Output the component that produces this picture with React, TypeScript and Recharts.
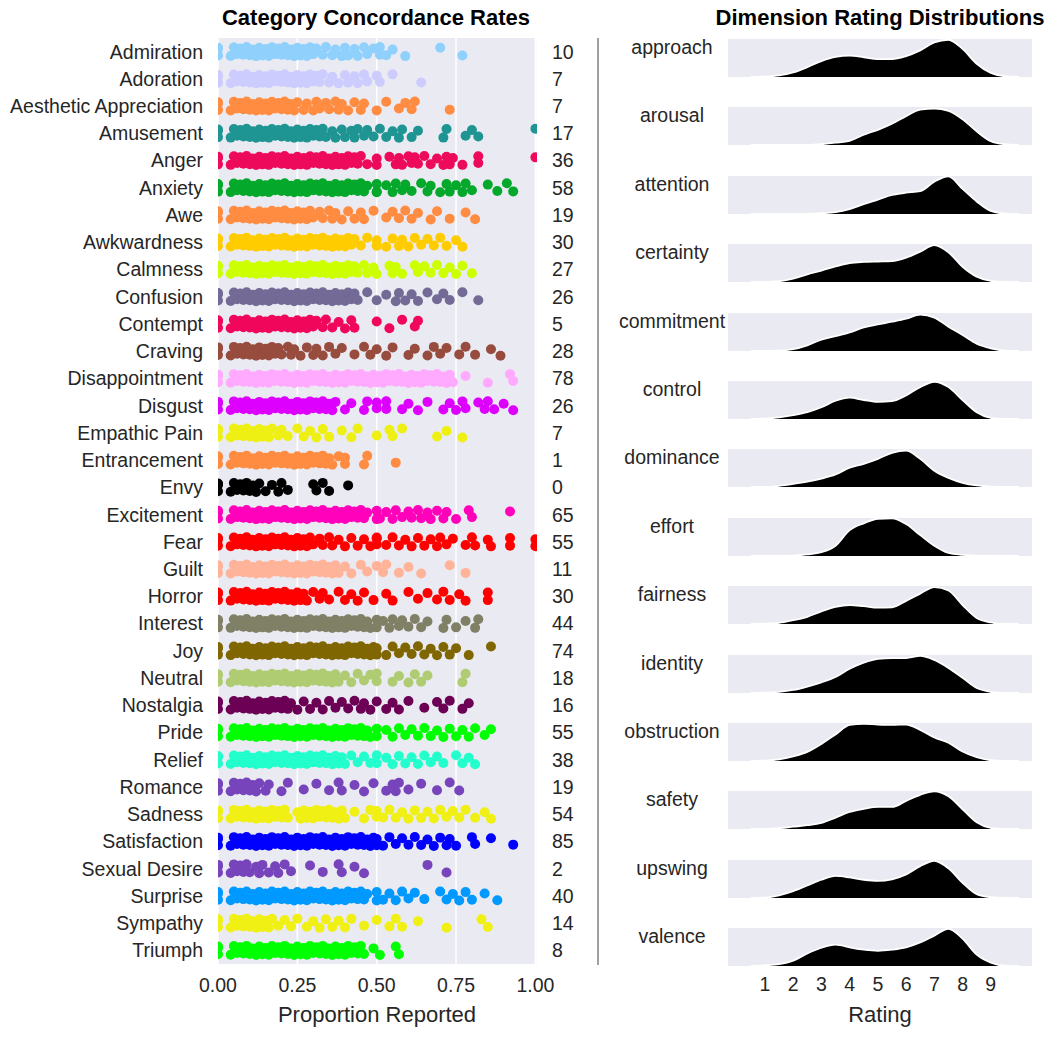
import { Area, AreaChart, CartesianGrid, Scatter, ScatterChart, XAxis, YAxis } from "recharts";

const FONT = "'Liberation Sans', Arial, sans-serif";
const INK = "#262626";

// ---- left panel: category concordance ----
const CATEGORIES = [
  "Admiration", "Adoration", "Aesthetic Appreciation", "Amusement", "Anger", "Anxiety", "Awe",
  "Awkwardness", "Calmness", "Confusion", "Contempt", "Craving", "Disappointment", "Disgust",
  "Empathic Pain", "Entrancement", "Envy", "Excitement", "Fear", "Guilt", "Horror", "Interest",
  "Joy", "Neutral", "Nostalgia", "Pride", "Relief", "Romance", "Sadness", "Satisfaction",
  "Sexual Desire", "Surprise", "Sympathy", "Triumph",
];
const COUNTS = [10, 7, 7, 17, 36, 58, 19, 30, 27, 26, 5, 28, 78, 26, 7, 1, 0, 65, 55, 11, 30, 44, 74, 18, 16, 55, 38, 19, 54, 85, 2, 40, 14, 8];
const COLORS = [
  "#8FD1FC", "#CCCCFF", "#FF8C40", "#1F9593", "#EE0A5A", "#04A82A", "#FF8C40",
  "#FFCC00", "#CCFF00", "#736A96", "#F0075B", "#974C3E", "#FFAAFF", "#DD00FF",
  "#EEF014", "#FF8C40", "#000000", "#FF00BB", "#FF0000", "#FFB399", "#FF0000", "#808066",
  "#806600", "#B0CC72", "#6B0055", "#00FF00", "#22FFCC", "#7744BB", "#F0F014", "#0000FF",
  "#7744BB", "#0099FF", "#F0F014", "#00FF00",
];
const X_TICKS = [0, 0.25, 0.5, 0.75, 1];

// proportion reported per stimulus, in percent
const admiration = [0, 0, 0, 4, 5, 6, 7, 8, 9, 10, 11, 12, 13, 14, 15, 16, 17, 18, 19, 20, 21, 22, 23, 24, 25, 26, 27, 28, 29, 30, 31, 33, 34, 36, 37, 39, 40, 41, 43, 44, 46, 47, 49, 51, 51, 53, 55, 59, 70, 77];
const adoration = [0, 0, 0, 4, 5, 6, 7, 8, 9, 10, 11, 12, 13, 14, 15, 16, 17, 18, 19, 20, 21, 22, 23, 24, 25, 26, 27, 28, 29, 30, 31, 32, 33, 35, 36, 38, 40, 41, 43, 44, 46, 47, 50, 51, 55, 64];
const aesthetic = [0, 0, 0, 4, 5, 6, 7, 8, 9, 10, 11, 12, 13, 14, 15, 16, 17, 18, 19, 20, 21, 22, 23, 24, 25, 27, 28, 30, 31, 32, 34, 35, 37, 38, 39, 41, 43, 45, 46, 50, 53, 57, 59, 61, 62, 73];
const amusement = [0, 0, 0, 4, 5, 6, 7, 8, 9, 10, 11, 12, 13, 14, 15, 16, 17, 18, 19, 20, 21, 22, 23, 24, 25, 26, 27, 28, 29, 30, 31, 32, 33, 34, 36, 37, 39, 40, 42, 43, 44, 46, 47, 49, 51, 53, 55, 57, 58, 61, 63, 71, 72, 78, 80, 82, 100];
const anger = [0, 0, 0, 4, 5, 6, 7, 8, 9, 10, 11, 12, 13, 14, 15, 16, 17, 18, 19, 20, 21, 22, 23, 24, 25, 26, 27, 28, 29, 30, 31, 32, 33, 34, 35, 36, 37, 38, 39, 40, 41, 42, 43, 44, 45, 47, 50, 50, 54, 56, 57, 58, 60, 61, 62, 63, 65, 67, 69, 71, 72, 73, 74, 77, 82, 82, 100];
const anxiety = [0, 0, 0, 4, 5, 6, 7, 8, 9, 10, 11, 12, 13, 14, 15, 16, 17, 18, 19, 20, 21, 22, 23, 24, 25, 26, 27, 28, 29, 30, 31, 32, 33, 34, 35, 36, 37, 38, 39, 40, 41, 42, 43, 44, 45, 46, 47, 50, 50, 50, 53, 55, 56, 58, 59, 61, 64, 66, 67, 70, 72, 73, 75, 77, 78, 80, 85, 88, 91, 93];
const awe = [0, 0, 0, 4, 5, 6, 7, 8, 9, 10, 11, 12, 13, 14, 15, 16, 17, 18, 19, 20, 21, 22, 23, 24, 25, 26, 27, 28, 29, 30, 32, 33, 35, 36, 37, 39, 41, 43, 45, 46, 49, 53, 55, 57, 59, 61, 63, 67, 69, 73, 78, 81];
const awkwardness = [0, 0, 0, 4, 5, 6, 7, 8, 9, 10, 11, 12, 13, 14, 15, 16, 17, 18, 19, 20, 21, 22, 23, 24, 25, 26, 27, 28, 29, 30, 31, 32, 33, 34, 35, 36, 37, 38, 39, 40, 41, 42, 43, 45, 47, 50, 50, 53, 55, 57, 58, 60, 62, 64, 66, 68, 70, 72, 75, 77];
const calmness = [0, 0, 0, 4, 5, 6, 7, 8, 9, 10, 11, 12, 13, 14, 15, 16, 17, 18, 19, 20, 21, 22, 23, 24, 25, 26, 27, 28, 29, 30, 31, 32, 33, 34, 35, 36, 37, 38, 39, 40, 41, 42, 43, 44, 46, 47, 49, 50, 54, 55, 56, 58, 62, 63, 65, 67, 69, 71, 73, 75, 77, 80];
const confusion = [0, 0, 0, 4, 5, 6, 7, 8, 9, 10, 11, 12, 13, 14, 15, 16, 17, 18, 19, 20, 21, 22, 23, 24, 25, 26, 27, 28, 29, 30, 31, 32, 33, 34, 35, 36, 37, 38, 39, 40, 41, 42, 43, 44, 47, 50, 53, 56, 57, 59, 61, 63, 66, 69, 71, 73, 77, 82];
const contempt = [0, 0, 0, 4, 5, 6, 7, 8, 9, 10, 11, 12, 13, 14, 15, 16, 17, 18, 19, 20, 21, 22, 23, 24, 25, 26, 27, 28, 29, 30, 31, 33, 34, 36, 38, 40, 42, 43, 50, 54, 58, 62, 63];
const craving = [0, 0, 0, 4, 5, 6, 7, 8, 9, 10, 11, 12, 13, 14, 15, 16, 17, 18, 19, 20, 22, 23, 24, 26, 28, 30, 31, 33, 35, 37, 39, 43, 46, 48, 50, 53, 55, 60, 62, 66, 68, 70, 72, 76, 78, 81, 86, 89];
const disappointment = [0, 0, 0, 4, 5, 6, 7, 8, 9, 10, 11, 12, 13, 14, 15, 16, 17, 18, 19, 20, 21, 22, 23, 24, 25, 26, 27, 28, 29, 30, 31, 32, 33, 34, 35, 36, 37, 38, 39, 40, 41, 42, 43, 44, 45, 46, 47, 48, 49, 50, 51, 52, 53, 54, 55, 56, 57, 58, 59, 60, 61, 62, 63, 64, 65, 66, 67, 68, 69, 70, 71, 72, 73, 74, 78, 85, 92, 93];
const disgust = [0, 0, 0, 4, 5, 6, 7, 8, 9, 10, 11, 12, 13, 14, 15, 16, 17, 18, 19, 20, 21, 22, 23, 24, 25, 26, 27, 28, 29, 30, 31, 32, 33, 34, 35, 36, 37, 40, 42, 46, 47, 50, 50, 53, 53, 58, 60, 63, 66, 71, 73, 75, 77, 78, 82, 84, 85, 87, 90, 93];
const empathicPain = [0, 0, 0, 4, 5, 6, 7, 8, 9, 10, 11, 12, 13, 14, 15, 16, 17, 19, 20, 22, 25, 27, 29, 31, 33, 35, 39, 42, 44, 50, 54, 55, 58, 69, 72, 77];
const entrancement = [0, 0, 0, 4, 5, 6, 7, 8, 9, 10, 11, 12, 13, 14, 15, 16, 17, 18, 19, 20, 21, 22, 23, 24, 25, 26, 27, 28, 29, 30, 31, 32, 33, 34, 35, 36, 38, 40, 40, 46, 47, 56];
const envy = [0, 0, 0, 4, 5, 6, 7, 8, 9, 10, 11, 12, 13, 15, 17, 19, 20, 22, 30, 31, 33, 35, 41];
const excitement = [0, 0, 0, 4, 5, 6, 7, 8, 9, 10, 11, 12, 13, 14, 15, 16, 17, 18, 19, 20, 21, 22, 23, 24, 25, 26, 27, 28, 29, 30, 31, 32, 33, 34, 35, 36, 37, 38, 39, 40, 41, 42, 43, 44, 45, 46, 47, 50, 50, 51, 53, 55, 56, 58, 60, 61, 63, 64, 66, 67, 69, 71, 72, 75, 79, 80, 92];
const fear = [0, 0, 0, 4, 5, 6, 7, 8, 9, 10, 11, 12, 13, 14, 15, 16, 17, 18, 19, 20, 21, 22, 23, 24, 25, 26, 27, 28, 29, 30, 32, 33, 35, 36, 38, 40, 42, 44, 46, 48, 50, 50, 50, 53, 55, 57, 59, 61, 63, 65, 67, 69, 70, 72, 74, 78, 80, 81, 85, 86, 92, 92, 100, 100];
const guilt = [0, 0, 0, 4, 5, 6, 7, 8, 9, 10, 11, 12, 13, 14, 15, 16, 17, 18, 19, 20, 21, 22, 23, 24, 25, 26, 27, 28, 29, 30, 31, 32, 33, 34, 35, 36, 37, 38, 40, 42, 45, 47, 50, 52, 53, 57, 60, 64, 73, 78];
const horror = [0, 0, 0, 4, 5, 6, 7, 8, 9, 10, 11, 12, 13, 14, 15, 16, 17, 18, 19, 20, 21, 22, 23, 24, 25, 26, 27, 28, 30, 32, 33, 35, 38, 40, 42, 44, 46, 49, 53, 55, 60, 63, 66, 69, 71, 73, 76, 78, 85, 85];
const interest = [0, 0, 0, 4, 5, 6, 7, 8, 9, 10, 11, 12, 13, 14, 15, 16, 17, 18, 19, 20, 21, 22, 23, 24, 25, 26, 27, 28, 29, 30, 31, 32, 33, 34, 35, 36, 37, 38, 39, 40, 41, 42, 43, 44, 45, 46, 47, 48, 50, 50, 52, 54, 55, 57, 58, 60, 62, 64, 66, 71, 72, 75, 78, 81, 82];
const joy = [0, 0, 0, 4, 5, 6, 7, 8, 9, 10, 11, 12, 13, 14, 15, 16, 17, 18, 19, 20, 21, 22, 23, 24, 25, 26, 27, 28, 29, 30, 31, 32, 33, 34, 35, 36, 37, 38, 39, 40, 41, 42, 43, 44, 45, 46, 47, 48, 49, 50, 50, 53, 55, 57, 59, 61, 63, 65, 67, 69, 71, 73, 75, 79, 86];
const neutral = [0, 0, 0, 4, 5, 6, 7, 8, 9, 10, 11, 12, 13, 14, 15, 16, 17, 18, 19, 20, 21, 22, 23, 24, 25, 26, 27, 28, 29, 30, 31, 32, 33, 34, 35, 36, 37, 38, 40, 42, 44, 46, 48, 50, 50, 55, 57, 60, 62, 64, 66, 77, 78];
const nostalgia = [0, 0, 0, 4, 5, 6, 7, 8, 9, 10, 11, 12, 13, 14, 15, 16, 17, 18, 19, 20, 21, 22, 23, 25, 27, 29, 31, 33, 35, 37, 39, 41, 43, 45, 46, 48, 50, 53, 55, 57, 60, 65, 69, 71, 73, 77, 79];
const pride = [0, 0, 0, 4, 5, 6, 7, 8, 9, 10, 11, 12, 13, 14, 15, 16, 17, 18, 19, 20, 21, 22, 23, 24, 25, 26, 27, 28, 29, 30, 31, 32, 33, 34, 35, 36, 37, 38, 39, 40, 41, 42, 43, 44, 45, 46, 47, 48, 50, 50, 53, 55, 57, 59, 61, 63, 65, 67, 69, 71, 73, 75, 77, 79, 81, 84, 86];
const relief = [0, 0, 0, 4, 5, 6, 7, 8, 9, 10, 11, 12, 13, 14, 15, 16, 17, 18, 19, 20, 21, 22, 23, 24, 25, 26, 27, 28, 29, 30, 31, 32, 33, 34, 35, 36, 37, 38, 39, 40, 42, 44, 46, 48, 50, 50, 53, 55, 57, 59, 61, 63, 65, 67, 69, 71, 75, 77, 79, 81];
const romance = [0, 0, 0, 4, 5, 6, 7, 8, 9, 10, 11, 12, 13, 15, 16, 20, 22, 27, 31, 35, 38, 39, 43, 46, 49, 53, 55, 56, 57, 60, 64, 69, 73, 76];
const sadness = [0, 0, 0, 4, 5, 6, 7, 8, 9, 10, 11, 12, 13, 14, 15, 16, 17, 18, 19, 20, 21, 22, 25, 26, 27, 28, 29, 30, 31, 32, 33, 34, 35, 36, 37, 38, 39, 40, 43, 46, 48, 50, 50, 52, 54, 56, 58, 60, 62, 64, 66, 68, 70, 72, 74, 76, 78, 81, 84, 86];
const satisfaction = [0, 0, 0, 4, 5, 6, 7, 8, 9, 10, 11, 12, 13, 14, 15, 16, 17, 18, 19, 20, 21, 22, 23, 24, 25, 26, 27, 28, 29, 30, 31, 32, 33, 34, 35, 36, 37, 38, 39, 40, 41, 42, 43, 44, 45, 46, 47, 48, 49, 50, 50, 52, 54, 56, 58, 60, 62, 64, 66, 68, 70, 72, 73, 75, 80, 81, 86, 93];
const sexualDesire = [0, 0, 0, 4, 5, 6, 7, 8, 9, 10, 12, 13, 14, 16, 18, 19, 21, 23, 29, 33, 38, 39, 43, 46, 66, 72];
const surprise = [0, 0, 0, 4, 5, 6, 7, 8, 9, 10, 11, 12, 13, 14, 15, 16, 17, 18, 19, 20, 21, 22, 23, 24, 25, 26, 27, 28, 29, 30, 31, 32, 33, 34, 35, 36, 37, 38, 39, 40, 41, 42, 43, 44, 45, 46, 47, 50, 50, 52, 54, 56, 58, 60, 62, 65, 70, 72, 74, 76, 78, 80, 84, 88];
const sympathy = [0, 0, 0, 4, 5, 6, 7, 8, 9, 10, 11, 12, 13, 14, 15, 16, 17, 19, 21, 23, 25, 28, 30, 32, 34, 36, 38, 40, 42, 46, 50, 54, 56, 58, 63, 72, 83, 85];
const triumph = [0, 0, 0, 4, 5, 6, 7, 8, 9, 10, 11, 12, 13, 14, 15, 16, 17, 18, 19, 20, 21, 22, 23, 24, 25, 26, 27, 28, 29, 30, 31, 32, 33, 34, 35, 36, 37, 38, 39, 40, 41, 42, 43, 44, 45, 46, 49, 51, 56, 57];

const POINTS = [
  admiration, adoration, aesthetic, amusement, anger, anxiety, awe, awkwardness, calmness,
  confusion, contempt, craving, disappointment, disgust, empathicPain, entrancement, envy,
  excitement, fear, guilt, horror, interest, joy, neutral, nostalgia, pride, relief, romance,
  sadness, satisfaction, sexualDesire, surprise, sympathy, triumph,
];

// ---- right panel: dimension rating densities (relative height, % of band) ----
const DIMENSIONS = [
  "approach", "arousal", "attention", "certainty", "commitment", "control", "dominance",
  "effort", "fairness", "identity", "obstruction", "safety", "upswing", "valence",
];
const RATING_GRID = [0.5, 1, 1.5, 2, 2.5, 3, 3.5, 4, 4.5, 5, 5.5, 6, 6.5, 7, 7.5, 8, 8.5, 9, 9.5, 10];
const RATING_TICKS = [1, 2, 3, 4, 5, 6, 7, 8, 9];

const approach = [0, 1, 4, 12, 26, 42, 53, 56, 52, 47, 47, 55, 70, 91, 98, 74, 35, 11, 2, 0];
const arousal = [0, 0, 0, 0, 0, 2, 6, 11, 27, 40, 56, 76, 93, 96, 90, 68, 36, 10, 2, 0];
const attention = [0, 0, 0, 0, 0, 2, 5, 13, 26, 38, 50, 56, 60, 85, 99, 66, 33, 8, 1, 0];
const certainty = [0, 0, 2, 9, 20, 30, 41, 50, 53, 54, 55, 64, 80, 97, 78, 40, 14, 3, 0, 0];
const commitment = [0, 0, 1, 5, 15, 30, 39, 49, 62, 70, 77, 85, 96, 88, 64, 42, 19, 7, 1, 0];
const control = [0, 1, 4, 10, 18, 31, 48, 56, 50, 45, 47, 62, 84, 98, 84, 50, 18, 3, 0, 0];
const dominance = [0, 0, 3, 8, 14, 22, 33, 51, 61, 74, 90, 96, 74, 43, 24, 11, 4, 1, 0, 0];
const effort = [0, 0, 0, 1, 4, 10, 27, 68, 86, 98, 99, 84, 55, 27, 8, 3, 1, 0, 0, 0];
const fairness = [0, 1, 3, 10, 19, 33, 45, 50, 47, 43, 44, 61, 80, 97, 88, 50, 16, 4, 0, 0];
const identity = [0, 1, 3, 8, 17, 28, 42, 64, 80, 90, 92, 92, 98, 87, 66, 40, 13, 3, 0, 0];
const obstruction = [0, 1, 4, 12, 24, 45, 70, 95, 98, 96, 95, 96, 82, 62, 48, 25, 10, 2, 0, 0];
const safety = [0, 0, 2, 6, 10, 16, 30, 45, 53, 58, 58, 74, 90, 99, 86, 52, 18, 3, 0, 0];
const upswing = [0, 1, 7, 18, 33, 48, 58, 54, 48, 45, 49, 62, 84, 98, 78, 40, 10, 2, 0, 0];
const valence = [0, 2, 5, 14, 33, 48, 56, 49, 43, 40, 43, 49, 62, 80, 98, 72, 30, 9, 1, 0];

const DENSITIES = [
  approach, arousal, attention, certainty, commitment, control, dominance,
  effort, fairness, identity, obstruction, safety, upswing, valence,
];

// vertical strip jitter, in px (alternating lanes so dense runs read as a solid band)
const JITTER = [-3.8, 3.8, -2.5, 4.3, -4.3, 2.5, -3.2, 3.2, -4.5, 3.6, -2, 4.5];
const ROW_PX = 926 / 34;
const ROWS = CATEGORIES.map((_, i) => i);

const BAND_LEFT = 728;
const BAND_W = 304;
const BAND_H = 38;
const BAND_TOP = 39;
const BAND_STEP = 68.4;

function CenteredText({ x, y, w, size, bold, children }: any) {
  return (
    <div
      style={{
        position: "absolute",
        left: x - w / 2,
        top: y - size * 0.6,
        width: w,
        lineHeight: `${size * 1.2}px`,
        fontSize: size,
        fontWeight: bold ? 700 : 400,
        textAlign: "center",
        color: bold ? "#000" : INK,
        fontFamily: FONT,
        whiteSpace: "nowrap",
      }}
    >
      {children}
    </div>
  );
}

function Dot(props: any) {
  const { cx, cy, fill } = props;
  if (cx == null || cy == null) return null;
  return <circle cx={cx} cy={cy} r={5} fill={fill} />;
}

export default function App() {
  return (
    <div style={{ position: "absolute", left: 0, top: 0, width: 1050, height: 1037, background: "#fff", fontFamily: FONT }}>
      <CenteredText x={376} y={18} w={400} size={22} bold>
        Category Concordance Rates
      </CenteredText>
      <CenteredText x={880} y={18} w={400} size={22} bold>
        Dimension Rating Distributions
      </CenteredText>

      <div style={{ position: "absolute", left: 0, top: 0 }}>
        <ScatterChart width={600} height={1037} margin={{ top: 38, right: 0, bottom: 0, left: 0 }}>
          <CartesianGrid yAxisId="names" fill="#EAEAF2" horizontal={false} stroke="#fff" strokeWidth={1.5} />
          <XAxis
            type="number"
            dataKey="x"
            domain={[0, 1.005]}
            allowDataOverflow
            ticks={X_TICKS}
            interval={0}
            tickFormatter={(v: number) => v.toFixed(2)}
            height={73}
            axisLine={false}
            tickLine={false}
            tickSize={0}
            tickMargin={14}
            tick={{ fontSize: 19.5, fill: INK, fontFamily: FONT }}
          />
          <YAxis
            yAxisId="names"
            type="number"
            dataKey="y"
            domain={[-0.5, 33.5]}
            allowDataOverflow
            reversed
            ticks={ROWS}
            interval={0}
            tickFormatter={(i: number) => CATEGORIES[i]}
            width={218}
            axisLine={false}
            tickLine={false}
            tickSize={0}
            tickMargin={15}
            tick={{ fontSize: 19.5, fill: INK, fontFamily: FONT }}
          />
          <YAxis
            yAxisId="counts"
            orientation="right"
            type="number"
            dataKey="y"
            domain={[-0.5, 33.5]}
            allowDataOverflow
            reversed
            ticks={ROWS}
            interval={0}
            tickFormatter={(i: number) => String(COUNTS[i])}
            width={63}
            axisLine={false}
            tickLine={false}
            tickSize={0}
            tickMargin={15}
            tick={{ fontSize: 19.5, fill: INK, fontFamily: FONT }}
          />
          {CATEGORIES.map((name, row) => {
            const data = POINTS[row].map((p, i) => ({
              x: p / 100,
              y: row + JITTER[i % JITTER.length] / ROW_PX,
            }));
            return (
              <Scatter
                key={name}
                yAxisId="names"
                data={data}
                fill={COLORS[row]}
                isAnimationActive={false}
                shape={<Dot />}
              />
            );
          })}
        </ScatterChart>
      </div>

      <CenteredText x={377} y={1015} w={300} size={22}>
        Proportion Reported
      </CenteredText>

      <div style={{ position: "absolute", left: 597, top: 38, width: 1.5, height: 927, background: "#a0a0a0" }} />

      {DIMENSIONS.map((dim, i) => {
        const last = i === DIMENSIONS.length - 1;
        const top = BAND_TOP + i * BAND_STEP;
        const data = RATING_GRID.map((r, k) => ({ r, d: DENSITIES[i][k] }));
        return (
          <div key={dim}>
            <CenteredText x={672} y={top + 8.7} w={150} size={19.5}>
              {dim}
            </CenteredText>
            <div style={{ position: "absolute", left: BAND_LEFT, top: top - 6 }}>
              <AreaChart
                width={BAND_W}
                height={BAND_H + 6 + (last ? 40 : 0)}
                data={data}
                margin={{ top: 6, right: 0, bottom: 0, left: 0 }}
              >
                <CartesianGrid fill="#EAEAF2" horizontal={false} vertical={false} />
                <XAxis
                  type="number"
                  dataKey="r"
                  domain={[-0.31, 10.46]}
                  ticks={RATING_TICKS}
                  interval={0}
                  hide={!last}
                  height={40}
                  axisLine={false}
                  tickLine={false}
                  tickSize={0}
                  tickMargin={11}
                  tick={{ fontSize: 19.5, fill: INK, fontFamily: FONT }}
                />
                <YAxis hide domain={[0, 100]} />
                <Area
                  type="monotone"
                  dataKey="d"
                  fill="#000"
                  fillOpacity={1}
                  stroke="#fff"
                  strokeWidth={1.8}
                  isAnimationActive={false}
                />
              </AreaChart>
            </div>
          </div>
        );
      })}

      <CenteredText x={880} y={1015} w={200} size={22}>
        Rating
      </CenteredText>
    </div>
  );
}
